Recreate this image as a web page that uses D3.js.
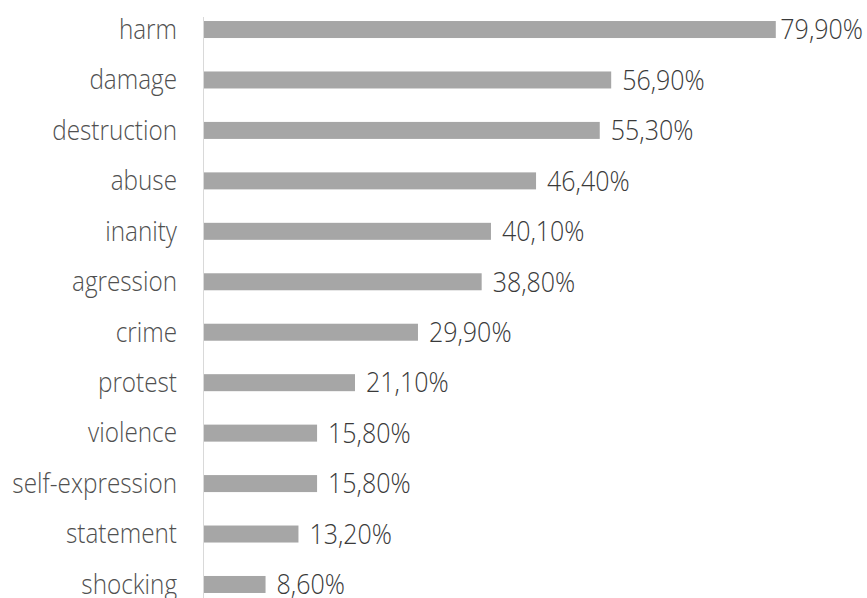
<!DOCTYPE html>
<html>
<head>
<meta charset="utf-8">
<script src="https://cdn.jsdelivr.net/npm/d3@7"></script>
<style>
  html, body { margin: 0; padding: 0; background: #fff; }
  svg { display: block; }
</style>
</head>
<body>
<svg id="chart" width="867" height="598"></svg>
<script>
// Associations with the word, share of respondents (%)
const categories = ["harm", "damage", "destruction", "abuse", "inanity", "agression",
  "crime", "protest", "violence", "self-expression", "statement", "shocking"];
const values = [79.9, 56.9, 55.3, 46.4, 40.1, 38.8, 29.9, 21.1, 15.8, 15.8, 13.2, 8.6];

const fmt = v => v.toFixed(2).replace(".", ",") + "%";

const svg = d3.select("#chart");
const W = 867;
const x0 = 204;

const x = d3.scaleLinear().domain([0, 80]).range([x0, x0 + 572.5]);
const y = d3.scaleBand()
  .domain(categories)
  .range([4.3, 4.3 + 50.45 * categories.length])
  .paddingInner(0.663)
  .paddingOuter(0.663 / 2);

const data = categories.map((c, i) => ({ c, v: values[i] }));

// bars
svg.append("g").selectAll("rect")
  .data(data).join("rect")
  .attr("x", x(0))
  .attr("y", d => y(d.c))
  .attr("width", d => x(d.v) - x(0))
  .attr("height", y.bandwidth())
  .attr("fill", "#a6a6a6");

// vertical category axis line
svg.append("line")
  .attr("x1", 203.5).attr("x2", 203.5)
  .attr("y1", 17).attr("y2", 598)
  .attr("stroke", "#d9d9d9").attr("stroke-width", 1);

const font = "'Open Sans', sans-serif";

// category labels
svg.append("g").selectAll("text")
  .data(data).join("text")
  .attr("transform", d => `translate(177,${y(d.c) + y.bandwidth() / 2}) scale(1,1.1)`)
  .attr("text-anchor", "end")
  .attr("dy", "0.35em")
  .attr("font-family", font)
  .attr("font-weight", 300)
  .attr("font-size", 24.3)
  .attr("fill", "#505050")
  .text(d => d.c);

// value labels, kept inside the right edge
const vl = svg.append("g").selectAll("text")
  .data(data).join("text")
  .attr("dy", "0.36em")
  .attr("font-family", font)
  .attr("font-weight", 300)
  .attr("font-size", 25)
  .attr("fill", "#3a3a3a")
  .text(d => fmt(d.v));

vl.each(function (d) {
  const w = this.getComputedTextLength();
  const tx = Math.min(x(d.v) + 11, W - 4 - w);
  d3.select(this).attr("transform",
    `translate(${tx},${y(d.c) + y.bandwidth() / 2}) scale(1,1.08)`);
});
</script>
</body>
</html>
